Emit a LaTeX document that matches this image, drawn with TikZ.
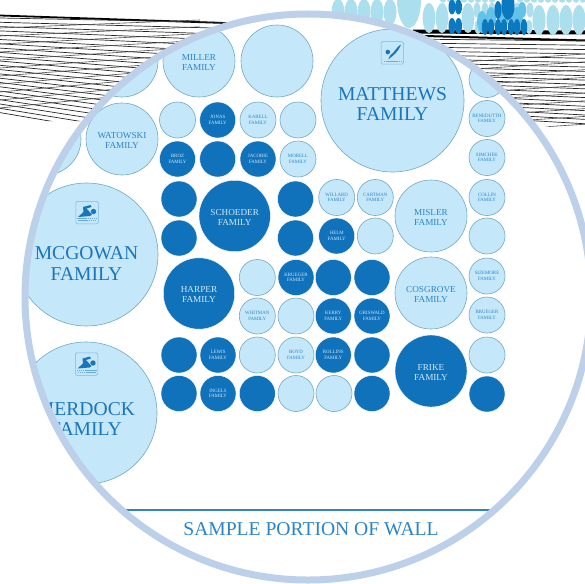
\documentclass[tikz,border=0pt]{standalone}
\usepackage{fontspec}
\setmainfont{Liberation Serif}
\definecolor{cLight}{HTML}{C5E7FA}
\definecolor{cEdge}{HTML}{6FA9C2}
\definecolor{cDark}{HTML}{1172BC}
\definecolor{cRing}{HTML}{BDD0E9}
\definecolor{cTxt}{HTML}{2B84CB}
\definecolor{cTxtB}{HTML}{1A75BC}
\definecolor{cTxtW}{HTML}{CFE9F9}
\definecolor{cOval}{HTML}{ABDFEE}
\definecolor{cMid}{HTML}{62C2E8}
\definecolor{cDeep}{HTML}{0B79BF}
\tikzset{
  disc/.style={circle,inner sep=0pt,align=center},
  cl/.style={disc,fill=cLight,draw=cEdge,line width=.6pt,text=cTxt},
  cd/.style={disc,fill=cDark,draw=white,line width=.4pt,text=cTxtW},
  tbig/.style={font=\fontsize{19.6}{20.6}\selectfont},
  tmid/.style={font=\fontsize{9.2}{10}\selectfont,align=center,inner sep=0pt},
  tsml/.style={font=\fontsize{4.9}{5.6}\selectfont},
  oval/.style={fill=cOval},
  ovalm/.style={fill=cMid},
  ovald/.style={fill=cDeep},
  iconbox/.style={draw=cTxt!60,fill=cLight,line width=.5pt,rounded corners=1.5pt,minimum size=22.5pt,inner sep=0pt},
  wave/.style={draw=cTxt!70,line width=.5pt,dash pattern=on 1.6pt off .5pt},
}
\newcommand{\famc}[6]{\node[#5,minimum size=#4*2pt] (#1) at (#2,#3) {#6};}
% medium disc with its two-line name set one pixel below the centre
\newcommand{\famm}[6]{\node[#5,minimum size=#4*2pt] (#1) at (#2,#3) {};
  \node[tmid,text=#6] (#1T) at ([yshift=-1pt]#1.center) {\MakeUppercase{#1}\\FAMILY};}
\begin{document}
\begin{tikzpicture}[x=1pt,y=-1pt]
\useasboundingbox (0,0) rectangle (585,583);
\fill[white] (0,0) rectangle (585,583);
% strung lines, left
\begin{scope}
\clip (0,0) -- (300,0) -- (300,40) -- (100,121) -- (0,121) -- cycle;
\draw[black,line width=1.8pt] (0,15.5) -- (225,23);
\foreach \i in {0,...,22}{
  \pgfmathsetmacro{\ya}{18+\i*4.3}
  \pgfmathsetmacro{\yb}{\ya+280*(0.02+0.0068*\i)}
  \draw[black!85,line width=.7pt] (0,\ya) -- (280,\yb);
}
\foreach \i in {0,...,10}{
  \pgfmathsetmacro{\ya}{28+\i*8}
  \draw[black!70,line width=.6pt] (0,\ya) -- (200,\ya-8-\i*1.2);
}
\end{scope}
% strung lines, right
\begin{scope}
\clip (400,0) -- (585,0) -- (585,130) -- (530,125) -- (400,60) -- cycle;
\draw[black,line width=4pt] (413,31.5) -- (585,32.5);
\draw[black,line width=2pt] (425,36) -- (585,40.5);
\foreach \i in {0,...,19}{
  \pgfmathsetmacro{\ya}{39+\i*3.9}
  \pgfmathsetmacro{\yb}{\ya+185*(0.01+0.0025*\i)}
  \draw[black!85,line width=.7pt] (400,\ya) -- (585,\yb);
}
\foreach \i in {0,...,9}{
  \pgfmathsetmacro{\ya}{58+\i*7.8}
  \draw[black!70,line width=.6pt] (400,\ya+8) -- (585,\ya-4);
}
\end{scope}
% ovals at the top
\foreach \x in {338,351,364,377,390} \fill[oval] (\x,12) ellipse (6.5 and 13);
\fill[oval] (409,0) ellipse (12 and 28);
\foreach \x in {429,442,468} \fill[oval] (\x,18) ellipse (6.3 and 15);
\foreach \x in {477,485,492,517,523,530} \fill[oval] (\x,10) ellipse (3.5 and 7.5);
\foreach \x in {539,553,566,579} \fill[oval] (\x,20) ellipse (6.5 and 15);
\foreach \x in {443,450,457,464,471,478,485,492,520,527,534,541,548,555,562,569,576,583} \fill[oval] (\x,-1) ellipse (3.3 and 3.8);
\fill[oval] (478,27) ellipse (3.5 and 7);
\fill[oval] (529,27) ellipse (3.5 and 7);
\fill[ovalm] (482,22) ellipse (5 and 11);
\fill[ovalm] (491,18) ellipse (5 and 11);
\fill[ovalm] (503,16) ellipse (6 and 12);
\fill[ovalm] (517,20) ellipse (6 and 13);
\fill[ovalm] (522,10) ellipse (4 and 8);
\foreach \x in {452,458.5}{
  \fill[ovald] (\x,7) ellipse (3.5 and 7.5);
  \fill[ovald] (\x,26) ellipse (3.5 and 8);
}
\foreach \x in {485,491,498,504,511,517,524} \fill[ovald] (\x,27) ellipse (3.2 and 8);
\fill[ovald] (498,10) ellipse (3.5 and 9);
\fill[ovald] (508,5) ellipse (6.5 and 15);
% inside of the ring
\fill[white] (308,297) circle (283);
\begin{scope}
\clip (308,297) circle (283);
% large
\famc{matthews}{392.5}{100.5}{71.5}{cl}{}
\famc{mcgowan}{86.5}{254.5}{71.5}{cl}{}
\famc{merdock}{86}{413}{71}{cl}{}
\node[tbig,text=cTxtB,align=center] (matthewsT) at (392.5,104) {MATTHEWS\\FAMILY};
\node[tbig,text=cTxtB,align=center] (mcgowanT) at (86.5,263.5) {MCGOWAN\\FAMILY};
\node[tbig,text=cTxtB,align=center] (merdockT) at (86,419) {MERDOCK\\FAMILY};
% medium
\famc{c1}{122}{61}{36}{cl}{}
\famc{c2}{45}{139}{36}{cl}{}
\famm{miller}{199}{61}{36}{cl}{cTxt}
\famc{c3}{277}{61}{36}{cl}{}
\famm{watowski}{122}{139}{36}{cl}{cTxt}
\famm{schoeder}{234.7}{216}{35.7}{cd}{cTxtW}
\famm{harper}{199}{293.5}{35.7}{cd}{cTxtW}
\famm{misler}{431}{216}{36}{cl}{cTxt}
\famm{cosgrove}{431}{293}{36}{cl}{cTxt}
\famm{frike}{431}{371}{36}{cd}{cTxtW}
% small, rows
\famc{a1}{177.5}{120}{18}{cl}{}
\famc{jonas}{217.7}{120}{18}{cd,tsml}{JONAS\\FAMILY}
\famc{karell}{258}{120}{18}{cl,tsml}{KARELL\\FAMILY}
\famc{a2}{298}{120}{18}{cl}{}
\famc{broz}{177.5}{159}{18}{cd,tsml}{BROZ\\FAMILY}
\famc{a3}{217.7}{159}{18}{cd}{}
\famc{jacobie}{258}{159}{18}{cd,tsml}{JACOBIE\\FAMILY}
\famc{morell}{298}{159}{18}{cl,tsml}{MORELL\\FAMILY}
\famc{a4}{179}{199}{18}{cd}{}
\famc{a5}{295.5}{199}{18}{cd}{}
\famc{willard}{336.7}{197.5}{18}{cl,tsml}{WILLARD\\FAMILY}
\famc{cartman}{375.3}{197.5}{18}{cl,tsml}{CARTMAN\\FAMILY}
\famc{a6}{179}{238}{18}{cd}{}
\famc{a7}{295.5}{238}{18}{cd}{}
\famc{helm}{336.7}{236}{18}{cd,tsml}{HELM\\FAMILY}
\famc{a8}{375.3}{236}{18}{cl}{}
\famc{a9}{257.3}{277.5}{18}{cl}{}
\famc{krueger}{296}{277.5}{18}{cd,tsml}{KRUEGER\\FAMILY}
\famc{a10}{333.3}{277.5}{18}{cd}{}
\famc{a11}{372}{277.5}{18}{cd}{}
\famc{whitman}{257.3}{316}{18}{cl,tsml}{WHITMAN\\FAMILY}
\famc{a12}{296}{316}{18}{cl}{}
\famc{kerry}{333.3}{316}{18}{cd,tsml}{KERRY\\FAMILY}
\famc{griswald}{372}{316}{18}{cd,tsml}{GRISWALD\\FAMILY}
\famc{a13}{179}{355}{18}{cd}{}
\famc{lewis}{218}{355}{18}{cd,tsml}{LEWIS\\FAMILY}
\famc{a14}{257.3}{355}{18}{cl}{}
\famc{boyd}{296}{355}{18}{cl,tsml}{BOYD\\FAMILY}
\famc{rollins}{333.3}{355}{18}{cd,tsml}{ROLLINS\\FAMILY}
\famc{a15}{372}{355}{18}{cd}{}
\famc{a16}{179}{393.5}{18}{cd}{}
\famc{ingels}{218}{393.5}{18}{cd,tsml}{INGELS\\FAMILY}
\famc{a17}{257.3}{393.5}{18}{cd}{}
\famc{a18}{296}{393.5}{18}{cl}{}
\famc{a19}{334}{393.5}{18}{cl}{}
\famc{a20}{372}{393.5}{18}{cd}{}
% right column
\famc{r1}{487}{79.5}{18}{cl}{}
\famc{benedutth}{487}{118.5}{18}{cl,tsml}{BENEDUTTH\\FAMILY}
\famc{simchek}{487}{157.5}{18}{cl,tsml}{SIMCHEK\\FAMILY}
\famc{collin}{487}{197.5}{18}{cl,tsml}{COLLIN\\FAMILY}
\famc{r2}{487}{236}{18}{cl}{}
\famc{sizemore}{487}{276}{18}{cl,tsml}{SIZEMORE\\FAMILY}
\famc{brueger}{487}{315}{18}{cl,tsml}{BRUEGER\\FAMILY}
\famc{r3}{487}{355}{18}{cl}{}
\famc{r4}{487}{394}{18}{cd}{}
% icons: swimmers
\foreach \n/\ix/\iy in {swimA/87/212.5,swimB/86.5/364}{
  \node[iconbox] (\n) at (\ix,\iy) {};
  \begin{scope}[shift={(\ix,\iy)}]
    \fill[cTxtB] (-9,4.5) -- (-3.5,-.5) -- (-4,-5.5) -- (3.5,-7.5) -- (4.5,-5.5) -- (-.5,-4) -- (5,2) -- (3,3.5) -- cycle;
    \fill[cTxtB] (6.5,-1) circle (2.7);
    \draw[wave] (-10,6.2) -- (10,6.2);
    \draw[wave] (-9,8) -- (9,8);
  \end{scope}
}
% icon: diver
\node[iconbox] (diveA) at (392.3,53) {};
\begin{scope}[shift={(392.3,53)}]
  \fill[cTxtB] (8.8,-8.5) .. controls (5,-7) and (4,-3) .. (1,-.5) .. controls (-1,1) and (-3,3) .. (-4,6.5) .. controls (-1,4) and (1,2.5) .. (3,.5) .. controls (6,-2) and (7,-5) .. (8.8,-8.5) -- cycle;
  \fill[cTxtB] (-4.5,-1) circle (2.3);
  \draw[wave] (-8.5,8) -- (8.5,8);
\end{scope}
% caption
\draw[cTxtB!90!white,line width=1.1pt] (100,510) -- (520,510);
\node[font=\fontsize{19.6}{22}\selectfont,text=cTxt,inner sep=0pt,anchor=base] (caption) at (311,535) {SAMPLE PORTION OF WALL};
\end{scope}
\draw[cRing,line width=7pt] (308,297) circle (283);
\end{tikzpicture}
\end{document}
